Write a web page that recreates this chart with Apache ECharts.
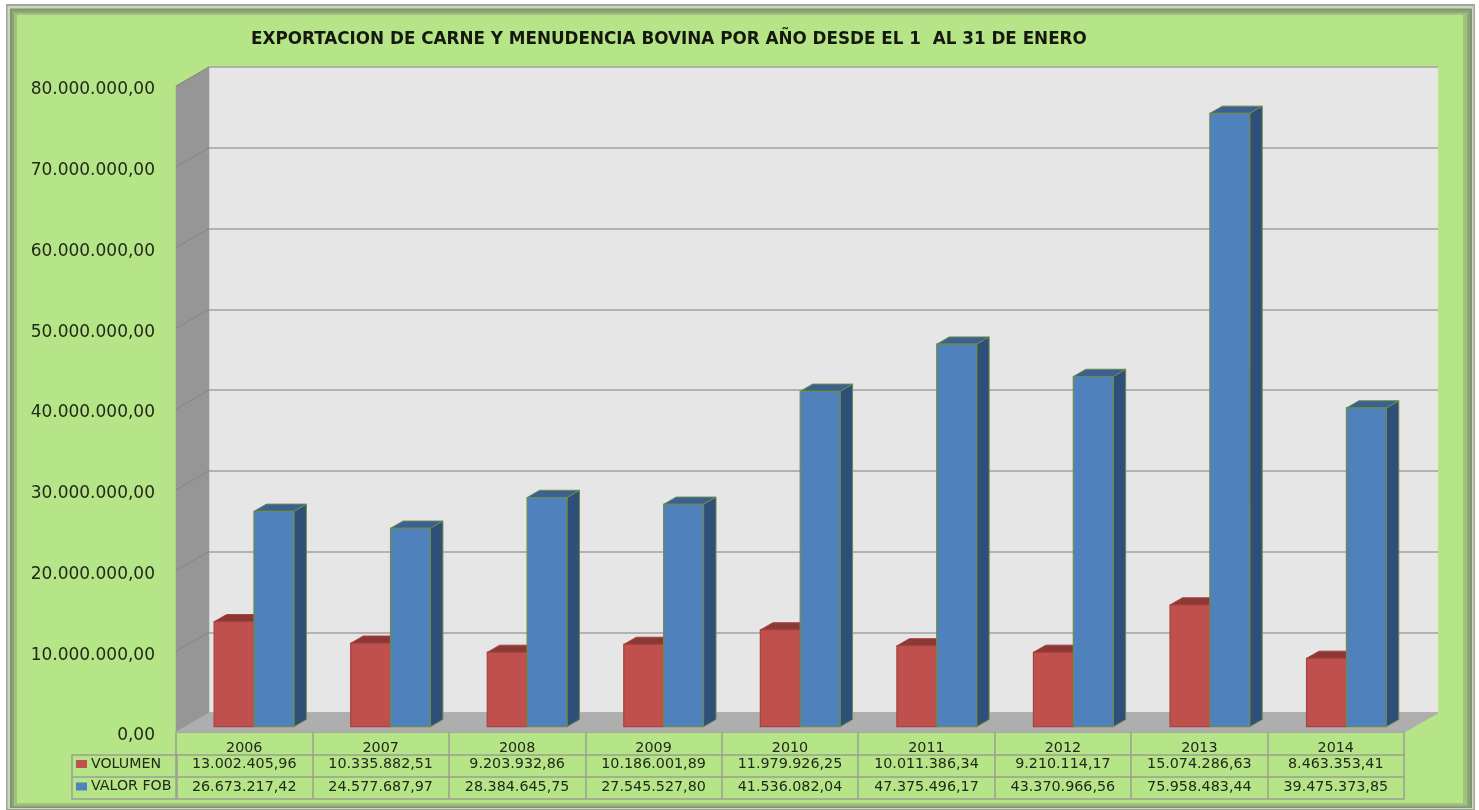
<!DOCTYPE html>
<html><head><meta charset="utf-8">
<style>html,body{margin:0;padding:0;background:#fff}#c{width:1479px;height:810px;filter:blur(0.45px)}</style>
<script src="https://cdn.jsdelivr.net/npm/echarts@6/dist/echarts.min.js"></script>
</head><body><div id="c"></div>
<script>
const titleText = 'EXPORTACION DE CARNE Y MENUDENCIA BOVINA POR AÑO DESDE EL 1  AL 31 DE ENERO';
const years = ['2006','2007','2008','2009','2010','2011','2012','2013','2014'];
const volumen = [13002405.96,10335882.51,9203932.86,10186001.89,11979926.25,10011386.34,9210114.17,15074286.63,8463353.41];
const valorFob = [26673217.42,24577687.97,28384645.75,27545527.80,41536082.04,47375496.17,43370966.56,75958483.44,39475373.85];
const yTicks = [0,10000000,20000000,30000000,40000000,50000000,60000000,70000000,80000000];

const fmt = v => v.toFixed(2).replace('.',',').replace(/\B(?=(\d{3})+(?!\d))/g,'.');
const GREEN = '#B5E586', GRID = '#A0A0A0', CELL = '#9A9F92', TXT = '#22281A';
const WALL_DX = 33, WALL_DY = 19, BAR_DX = 23.3, BAR_DY = 13.7, DEPTH_DX = 12.5, DEPTH_DY = 7.2, BAR_W = 0.292;
const FONT = 'DejaVu Sans';

function poly(points, fill, stroke, lw){
  return {type:'polygon', shape:{points}, style:{fill, stroke:stroke||fill, lineWidth:lw||0.5}};
}
function wallsItem(params, api){
  const half = api.size([1,0])[0]/2;
  const b0 = api.coord([0,0]), t0 = api.coord([0,80000000]), bN = api.coord([years.length-1,0]);
  const xl = b0[0]-half, xr = bN[0]+half, yb = b0[1], yt = t0[1];
  return {type:'group', children:[
    poly([[xl,yt],[xl,yb],[xl-WALL_DX,yb+WALL_DY],[xl-WALL_DX,yt+WALL_DY]], '#969696'),
    poly([[xl,yb],[xr,yb],[xr-WALL_DX,yb+WALL_DY],[xl-WALL_DX,yb+WALL_DY]], '#AEAEAE')
  ]};
}
function wallLineItem(params, api){
  const half = api.size([1,0])[0]/2;
  const c = api.coord([0,api.value(1)]);
  const xl = c[0]-half;
  return {type:'line', shape:{x1:xl,y1:c[1],x2:xl-WALL_DX,y2:c[1]+WALL_DY}, style:{stroke:'#858585',lineWidth:1}};
}
function barItem(colors, shift){
  return function(params, api){
    const i = api.value(0), w = api.size([1,0])[0]*BAR_W;
    const top = api.coord([i,api.value(1)]), bot = api.coord([i,0]);
    const x0 = top[0]-BAR_DX+shift*w, x1 = x0+w, yt = top[1]+BAR_DY, yb = bot[1]+BAR_DY;
    return {type:'group', children:[
      poly([[x1,yt],[x1+DEPTH_DX,yt-DEPTH_DY],[x1+DEPTH_DX,yb-DEPTH_DY],[x1,yb]], colors.side, colors.line, 1),
      poly([[x0,yt],[x0+DEPTH_DX,yt-DEPTH_DY],[x1+DEPTH_DX,yt-DEPTH_DY],[x1,yt]], colors.top, colors.line, 1),
      poly([[x0,yt],[x1,yt],[x1,yb],[x0,yb]], colors.front, colors.line, 1.2)
    ]};
  };
}
const red = {front:'#C0504D', top:'#8C3836', side:'#8C3836', line:'#A5443F'};
const blue = {front:'#4F81BD', top:'#3A6190', side:'#2E5078', line:'#6E8B4A'};

const frame = [
 [6,4,1475,810,'#A3A3A3'],[7.5,6,1473.5,809,'#C9DAB6'],[10,8.5,1472,808,'#7D9670'],
 [12,10.5,1470,807,'#8DA678'],[14,13,1467,805.5,'#A2C07E'],[17,15,1463,803,GREEN]
];
const tableOuter = {left:72, top:755, right:177, mid:777, bottom:799};

const xBase = {type:'category', gridIndex:1, position:'bottom', boundaryGap:true, silent:true,
  axisLine:{show:true,onZero:false,lineStyle:{color:CELL,width:1.5}},
  axisTick:{show:true,alignWithLabel:false,lineStyle:{color:CELL,width:1.5}}};
const labelBase = {show:true,interval:0,color:TXT,fontFamily:FONT,fontSize:14.3};

const option = {
  animation:false, backgroundColor:'#fff',
  title:{text:titleText,left:251,top:31,padding:0,textStyle:{fontFamily:'DejaVu Sans',fontWeight:'bold',fontSize:16.8,color:'#15180F'}},
  legend:{data:[{name:'VOLUMEN',icon:'rect',itemStyle:{color:red.front}},{name:'VALOR FOB',icon:'rect',itemStyle:{color:blue.front}}],
    orient:'vertical',left:76,top:757,itemWidth:11,itemHeight:8,itemGap:8.5,selectedMode:false,padding:0,
    textStyle:{fontFamily:FONT,fontSize:14.2,color:TXT,padding:[0,0,0,-1]}},
  grid:[
    {left:209,top:67,width:1229,height:646,show:true,backgroundColor:'#E6E6E6',borderWidth:0},
    {left:176,top:86,width:1228,height:646,show:false}
  ],
  xAxis:[
    {type:'category',gridIndex:0,data:years,show:false},
    Object.assign({},xBase,{data:years,offset:0,axisTick:Object.assign({},xBase.axisTick,{length:23}),axisLabel:Object.assign({},labelBase,{margin:9})}),
    Object.assign({},xBase,{data:volumen.map(fmt),offset:23,axisTick:Object.assign({},xBase.axisTick,{length:22}),axisLabel:Object.assign({},labelBase,{margin:2})}),
    Object.assign({},xBase,{data:valorFob.map(fmt),offset:45,axisTick:Object.assign({},xBase.axisTick,{length:22}),axisLabel:Object.assign({},labelBase,{margin:3})}),
    Object.assign({},xBase,{data:years.map(()=>''),offset:67,axisTick:{show:false},axisLabel:{show:false}})
  ],
  yAxis:[
    {type:'value',gridIndex:0,min:0,max:80000000,interval:10000000,axisLine:{show:false},axisTick:{show:false},axisLabel:{show:false},
     splitLine:{show:true,lineStyle:{color:GRID,width:1.6}}},
    {type:'value',gridIndex:1,min:0,max:80000000,interval:10000000,axisLine:{show:false},axisTick:{show:false},splitLine:{show:false},
     axisLabel:{show:true,margin:21,formatter:fmt,color:TXT,fontFamily:FONT,fontSize:17,verticalAlign:'top',lineHeight:8}}
  ],
  series:[
    {type:'custom',name:'paredes',xAxisIndex:0,yAxisIndex:0,silent:true,clip:false,z:1,data:[[0,0]],renderItem:wallsItem},
    {type:'custom',name:'lineas',xAxisIndex:0,yAxisIndex:0,silent:true,clip:false,z:2,data:yTicks.slice(1).map(v=>[0,v]),renderItem:wallLineItem},
    {type:'custom',name:'VOLUMEN',xAxisIndex:0,yAxisIndex:0,silent:true,clip:false,z:3,itemStyle:{color:red.front},
     encode:{x:0,y:1},data:volumen.map((v,i)=>[i,v]),renderItem:barItem(red,-1)},
    {type:'custom',name:'VALOR FOB',xAxisIndex:0,yAxisIndex:0,silent:true,clip:false,z:4,itemStyle:{color:blue.front},
     encode:{x:0,y:1},data:valorFob.map((v,i)=>[i,v]),renderItem:barItem(blue,0)}
  ],
  graphic:{elements:[
    ...frame.map(f=>({type:'rect',silent:true,z:-10,shape:{x:f[0],y:f[1],width:f[2]-f[0],height:f[3]-f[1]},style:{fill:f[4]}})),
    {type:'rect',silent:true,z:5,shape:{x:tableOuter.left,y:tableOuter.top,width:tableOuter.right-tableOuter.left,height:tableOuter.bottom-tableOuter.top},style:{fill:'transparent',stroke:CELL,lineWidth:1.5}},
    {type:'line',silent:true,z:5,shape:{x1:tableOuter.left,y1:tableOuter.mid,x2:tableOuter.right,y2:tableOuter.mid},style:{stroke:CELL,lineWidth:1.5}}
  ]}
};
const chart = echarts.init(document.getElementById('c'));
chart.setOption(option);
</script></body></html>
